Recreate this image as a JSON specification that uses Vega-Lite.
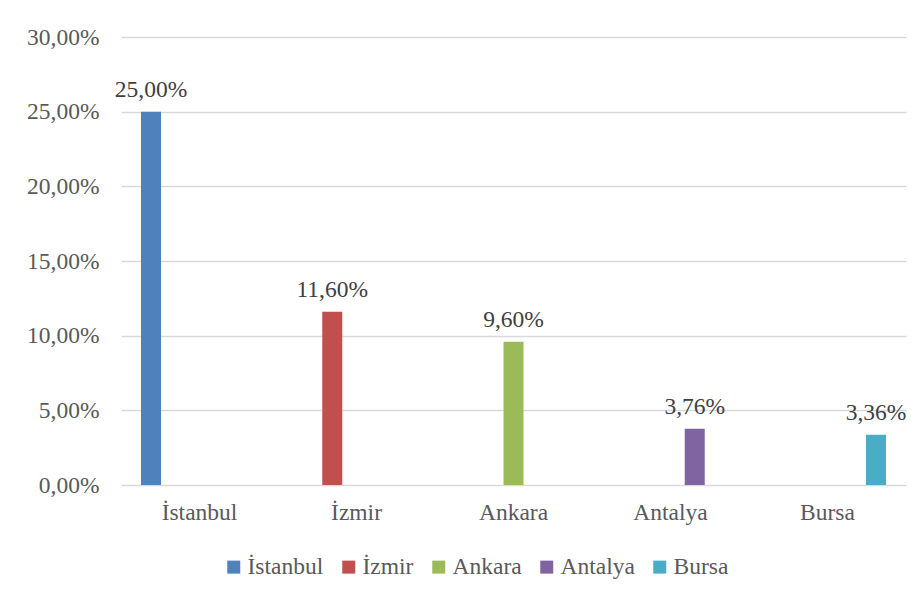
{
  "$schema": "https://vega.github.io/schema/vega-lite/v6.json",
  "width": 785,
  "height": 448,
  "autosize": {"type": "none"},
  "padding": {"left": 121, "top": 37, "right": 18, "bottom": 114},
  "background": "white",
  "config": {
    "font": "Liberation Serif",
    "view": {"stroke": null},
    "locale": {"number": {"decimal": ",", "thousands": ".", "grouping": [3], "currency": ["", " TL"]}}
  },
  "data": {
    "values": [
      {"City": "İstanbul", "value": 0.25},
      {"City": "İzmir", "value": 0.116},
      {"City": "Ankara", "value": 0.096},
      {"City": "Antalya", "value": 0.0376},
      {"City": "Bursa", "value": 0.0336}
    ]
  },
  "encoding": {
    "x": {
      "field": "City", "type": "nominal", "sort": null,
      "scale": {"paddingInner": 0, "paddingOuter": 0},
      "axis": {"title": null, "labelAngle": 0, "ticks": false, "domain": false, "labelFont": "Liberation Serif", "labelFontSize": 23.5, "labelColor": "#595959", "labelPadding": 15}
    },
    "xOffset": {
      "field": "City", "type": "nominal", "sort": null,
      "scale": {"paddingInner": 0.175, "paddingOuter": 0.825}
    },
    "y": {
      "field": "value", "type": "quantitative",
      "scale": {"domain": [0, 0.3], "nice": false},
      "axis": {"title": null, "values": [0, 0.05, 0.1, 0.15, 0.2, 0.25, 0.3], "format": ".2%", "ticks": false, "domain": false, "gridColor": "#d9d9d9", "gridWidth": 1.5, "labelFont": "Liberation Serif", "labelFontSize": 23.5, "labelColor": "#595959", "labelPadding": 22}
    }
  },
  "layer": [
    {
      "mark": {"type": "bar"},
      "encoding": {
        "color": {
          "field": "City", "type": "nominal", "sort": null,
          "scale": {"domain": ["İstanbul", "İzmir", "Ankara", "Antalya", "Bursa"], "range": ["#4F81BD", "#C0504D", "#9BBB59", "#8064A2", "#4BACC6"]},
          "legend": {"title": null, "orient": "none", "legendX": 101, "legendY": 518, "direction": "horizontal", "symbolType": "square", "symbolSize": 169, "symbolStrokeWidth": 0, "labelFont": "Liberation Serif", "labelFontSize": 23.5, "labelColor": "#595959", "labelOffset": 2, "columnPadding": 13}
        }
      }
    },
    {
      "mark": {"type": "text", "baseline": "alphabetic", "dy": -15, "font": "Liberation Serif", "fontSize": 23.5, "color": "#404040"},
      "encoding": {"text": {"field": "value", "type": "quantitative", "format": ".2%"}}
    }
  ]
}
